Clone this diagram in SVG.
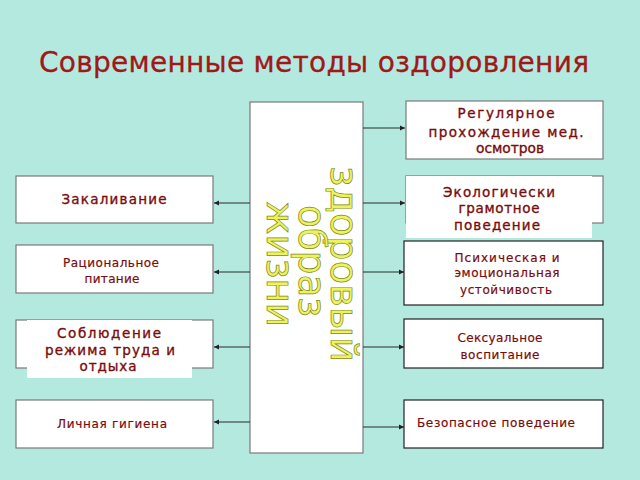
<svg xmlns="http://www.w3.org/2000/svg" width="640" height="480" viewBox="0 0 640 480">
<defs>
<marker id="ah" markerWidth="6" markerHeight="6" refX="5" refY="3" orient="auto" markerUnits="userSpaceOnUse">
<path d="M0,0.5 L5,3 L0,5.5 Z" fill="#222"/>
</marker>
<style>
.box{fill:#fff;stroke:#7a7a7a;stroke-width:1.2}
.boxk{fill:#fff;stroke:#222;stroke-width:1.2}
.bt{font-family:"DejaVu Sans",sans-serif;font-size:13.5px;fill:#7a0c0c;stroke:#7a0c0c;stroke-width:0.35;text-anchor:middle}
.ct{font-family:"DejaVu Sans",sans-serif;font-size:12px;fill:#7a0c0c;stroke:#7a0c0c;stroke-width:0.2;text-anchor:middle}
.big{font-family:"DejaVu Sans",sans-serif;font-size:38px;fill:#eef25c;stroke:#7f8a1a;stroke-width:0.7;text-anchor:middle}
.cn{stroke:#2a2a2a;stroke-width:1.2;fill:none;marker-end:url(#ah)}
</style>
</defs>
<rect width="640" height="480" fill="#b4e9e0"/>
<text x="314" y="72" font-family="DejaVu Sans, sans-serif" font-size="28" fill="#a01818" stroke="#a01818" stroke-width="0.3" text-anchor="middle" textLength="550">Современные методы оздоровления</text>

<g id="center">
<rect class="box" x="250" y="102" width="113" height="351"/>
<g transform="rotate(90)">
<text class="big" x="264" y="-331" textLength="196" lengthAdjust="spacingAndGlyphs">здоровый</text>
<text class="big" x="261" y="-299" textLength="112" lengthAdjust="spacingAndGlyphs">образ</text>
<text class="big" x="264" y="-267" textLength="126" lengthAdjust="spacingAndGlyphs">жизни</text>
</g>
</g>

<g id="connectors">
<line class="cn" x1="250" y1="203" x2="214" y2="203"/>
<line class="cn" x1="250" y1="272" x2="214" y2="272"/>
<line class="cn" x1="250" y1="347" x2="214" y2="347"/>
<line class="cn" x1="250" y1="422" x2="214" y2="422"/>
<line class="cn" x1="363" y1="128" x2="405" y2="128"/>
<line class="cn" x1="363" y1="203" x2="405" y2="203"/>
<line class="cn" x1="363" y1="272" x2="404" y2="272"/>
<line class="cn" x1="363" y1="347" x2="404" y2="347"/>
<line class="cn" x1="363" y1="427" x2="404" y2="427"/>
</g>

<g id="l1">
<rect class="box" x="16" y="176" width="197" height="47"/>
<text class="bt" x="114" y="204" font-size="15" textLength="105">Закаливание</text>
</g>
<g id="l2">
<rect class="box" x="16" y="245" width="197" height="48"/>
<text class="ct" x="111" y="267" textLength="96">Рациональное</text>
<text class="ct" x="112" y="283" textLength="55">питание</text>
</g>
<g id="l3">
<rect class="box" x="16" y="320" width="197" height="48"/>
<rect x="27" y="320" width="165" height="58" fill="#fff"/>
<text class="bt" x="109" y="338" font-size="15" textLength="104">Соблюдение</text>
<text class="bt" x="110" y="355" font-size="15" textLength="130">режима труда и</text>
<text class="bt" x="108" y="371" font-size="15" textLength="57">отдыха</text>
</g>
<g id="l4">
<rect class="box" x="16" y="400" width="197" height="48"/>
<text class="ct" x="112" y="428" textLength="110">Личная гигиена</text>
</g>

<g id="r1">
<rect class="box" x="406" y="101" width="197" height="58"/>
<text class="bt" x="506" y="118" textLength="97">Регулярное</text>
<text class="bt" x="506" y="137" textLength="155">прохождение мед.</text>
<text class="bt" x="510" y="153" textLength="68" lengthAdjust="spacingAndGlyphs">осмотров</text>
</g>
<g id="r2">
<rect class="box" x="406" y="176" width="197" height="47"/>
<rect x="406" y="176" width="186" height="62" fill="#fff"/>
<text class="bt" x="499" y="197" textLength="112">Экологически</text>
<text class="bt" x="499" y="213" textLength="81">грамотное</text>
<text class="bt" x="497" y="230" textLength="86">поведение</text>
</g>
<g id="r3">
<rect class="boxk" x="404" y="241" width="199" height="64"/>
<text class="ct" x="507" y="262" textLength="105">Психическая и</text>
<text class="ct" x="507" y="277" textLength="105">эмоциональная</text>
<text class="ct" x="506" y="294" textLength="92">устойчивость</text>
</g>
<g id="r4">
<rect class="boxk" x="404" y="319" width="199" height="49"/>
<text class="ct" x="500" y="342" textLength="85">Сексуальное</text>
<text class="ct" x="500" y="359" textLength="79">воспитание</text>
</g>
<g id="r5">
<rect class="boxk" x="404" y="400" width="199" height="48"/>
<text class="ct" x="496" y="427" textLength="158">Безопасное поведение</text>
</g>
</svg>
